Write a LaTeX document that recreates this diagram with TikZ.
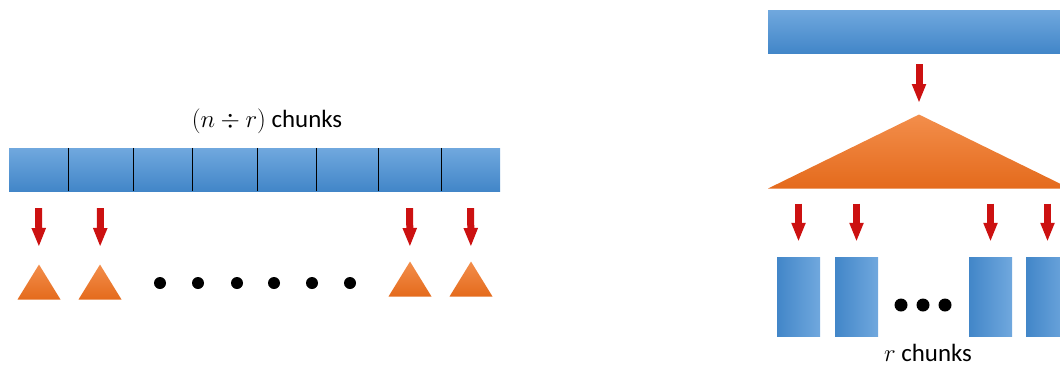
\documentclass[tikz,border=0pt]{standalone}
\usepackage{fontspec}
\setmainfont{Carlito}
\usetikzlibrary{positioning,arrows.meta,shapes.geometric}
\definecolor{barlight}{RGB}{112,168,222}
\definecolor{bardark}{RGB}{66,134,200}
\definecolor{orlight}{RGB}{243,142,75}
\definecolor{ordark}{RGB}{228,106,28}
\definecolor{arrred}{RGB}{204,17,17}
\tikzset{
  cellbox/.style={rectangle, inner sep=0pt, minimum height=43pt,
    top color=barlight, bottom color=bardark},
  tribox/.style={isosceles triangle, isosceles triangle stretches,
    shape border rotate=90, inner sep=0pt, anchor=apex,
    top color=orlight, bottom color=ordark},
  colbox/.style={rectangle, inner sep=0pt, minimum width=43pt,
    minimum height=79pt, left color=bardark, right color=barlight},
  dotnode/.style={circle, fill=black, inner sep=0pt, minimum size=12pt},
  redarr/.style={-{Triangle[length=19pt,width=13pt]}, line width=7pt, draw=arrred},
  chunklabel/.style={font=\Huge, inner sep=1pt},
}
\begin{document}
\begin{tikzpicture}[x=1pt, y=-1pt]
  \useasboundingbox (0,0) rectangle (1060,368);
  \clip (0,0) rectangle (1060,368);
  % Left: bar of chunks
  \node[chunklabel] (lefttitle) at (267,121) {$(n \div r)$ chunks};
  \foreach \a/\b [count=\i] in {9/68,68/133,133/192,192/257,257/316,316/378,378/441,441/500}
    \node[cellbox, minimum width={(\b-\a)*1pt}] (c\i) at ({(\a+\b)/2},169.5) {};
  \foreach \i in {1,...,7}
    \draw[line width=1pt] (c\i.north east) -- (c\i.south east);
  % Left: triangles and dots
  \node[tribox, minimum width=43pt, minimum height=35pt] (t1) at (39,264) {};
  \node[tribox, minimum width=43pt, minimum height=35pt] (t2) at (100,264) {};
  \node[tribox, minimum width=43pt, minimum height=35pt] (t3) at (410,261) {};
  \node[tribox, minimum width=43pt, minimum height=35pt] (t4) at (471,261) {};
  \foreach \x [count=\i] in {160,198,237,274,312,350}
    \node[dotnode] (d\i) at (\x,283) {};
  \draw[redarr, shorten <=17pt, shorten >=17pt] (c1.south) -- (t1.apex);
  \draw[redarr, shorten <=17pt, shorten >=17pt] (c2.south) -- (t2.apex);
  \draw[redarr, shorten <=17pt, shorten >=14pt] (c7.south) -- (t3.apex);
  \draw[redarr, shorten <=17pt, shorten >=14pt] (c8.south) -- (t4.apex);
  % Right: one bar split into r chunks
  \node[cellbox, minimum width=302pt] (whole) at (919,31.5) {};
  \node[tribox, minimum width=302pt, minimum height=74pt] (split) at (919,114) {};
  \foreach \x [count=\i] in {798.5,856.5,990.5,1047.5}
    \node[colbox] (r\i) at (\x,296.5) {};
  \foreach \x [count=\i] in {901,923,945}
    \node[dotnode, minimum size=13pt] (e\i) at (\x,305) {};
  \node[chunklabel] (righttitle) at (928,353) {$r$ chunks};
  \draw[redarr, shorten <=11pt, shorten >=11pt] (whole.south) -- (split.apex);
  \foreach \i in {1,...,4}
    \draw[redarr, shorten <=15pt, shorten >=15pt] (split.south -| r\i.north) -- (r\i.north);
\end{tikzpicture}
\end{document}
